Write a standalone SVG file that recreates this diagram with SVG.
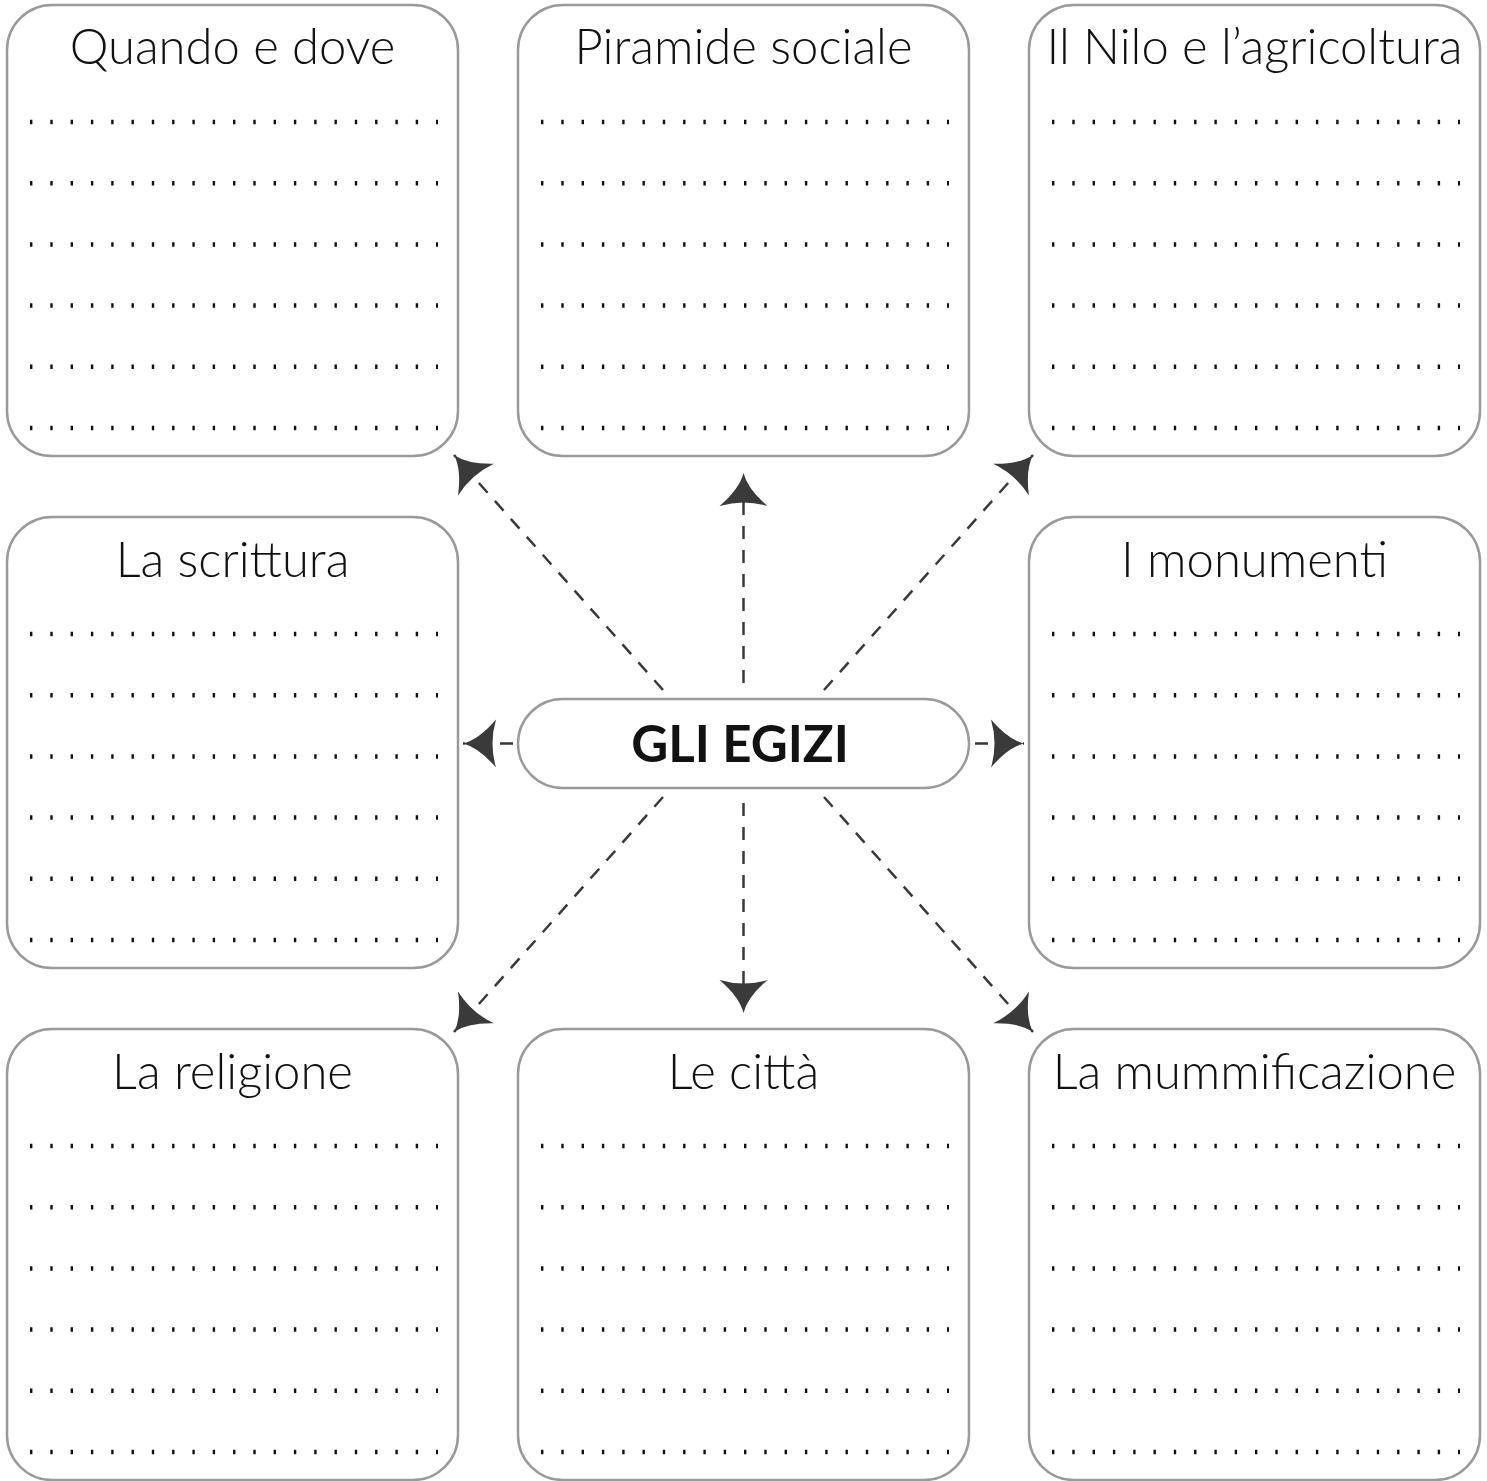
<svg xmlns="http://www.w3.org/2000/svg" width="1487" height="1481" viewBox="0 0 1487 1481">
<style>
.box{fill:#fff;stroke:#9a9a9a;stroke-width:2.5}
.title{font-family:Lato,"Liberation Sans",sans-serif;font-weight:300;font-size:49px;fill:#111;text-anchor:middle}
.main{font-family:Lato,"Liberation Sans",sans-serif;font-weight:700;font-size:51px;fill:#111;text-anchor:middle}
.dots{stroke:#111;stroke-width:4.5;stroke-dasharray:2.4 17.9;fill:none}
.conn{stroke:#3a3a3a;stroke-width:2.5;stroke-dasharray:13 11;fill:none}
</style>
<defs>
<marker id="ah" markerUnits="userSpaceOnUse" viewBox="-36 -26 38 52" markerWidth="38" markerHeight="52" refX="0" refY="0" orient="auto">
<path d="M0,0 Q-16,4 -33,24 Q-26,0 -33,-24 Q-16,-4 0,0 Z" fill="#3a3a3a"/>
</marker>
<g id="dotrows">
<line class="dots" x1="22" y1="0" x2="430" y2="0"/>
<line class="dots" x1="22" y1="61.2" x2="430" y2="61.2"/>
<line class="dots" x1="22" y1="122.4" x2="430" y2="122.4"/>
<line class="dots" x1="22" y1="183.6" x2="430" y2="183.6"/>
<line class="dots" x1="22" y1="244.8" x2="430" y2="244.8"/>
<line class="dots" x1="22" y1="306" x2="430" y2="306"/>
</g>
</defs>
<rect width="1487" height="1481" fill="#fff"/>
<g id="connectors">
<line class="conn" x1="743.5" y1="683" x2="743.5" y2="473" marker-end="url(#ah)"/>
<line class="conn" x1="743.5" y1="803" x2="743.5" y2="1013" marker-end="url(#ah)"/>
<line class="conn" x1="513" y1="743.5" x2="463" y2="743.5" marker-end="url(#ah)"/>
<line class="conn" x1="975" y1="743.5" x2="1024" y2="743.5" marker-end="url(#ah)"/>
<line class="conn" x1="663" y1="690" x2="454" y2="455" marker-end="url(#ah)"/>
<line class="conn" x1="824" y1="690" x2="1033" y2="455" marker-end="url(#ah)"/>
<line class="conn" x1="663" y1="797" x2="454" y2="1032" marker-end="url(#ah)"/>
<line class="conn" x1="824" y1="797" x2="1033" y2="1032" marker-end="url(#ah)"/>
</g>
<g id="node-center">
<rect class="box" x="518" y="699" width="451" height="89" rx="44.5"/>
<text class="main" x="740" y="762">GLI EGIZI</text>
</g>
<g id="node-quando">
<rect class="box" x="7" y="5" width="451" height="451" rx="45"/>
<text class="title" x="232.5" y="64">Quando e dove</text>
<use href="#dotrows" x="8" y="122"/>
</g>
<g id="node-piramide">
<rect class="box" x="518" y="5" width="451" height="451" rx="45"/>
<text class="title" x="743.5" y="64">Piramide sociale</text>
<use href="#dotrows" x="519" y="122"/>
</g>
<g id="node-nilo">
<rect class="box" x="1029" y="5" width="451" height="451" rx="45"/>
<text class="title" x="1254.5" y="64">Il Nilo e l’agricoltura</text>
<use href="#dotrows" x="1030" y="122"/>
</g>
<g id="node-scrittura">
<rect class="box" x="7" y="517" width="451" height="451" rx="45"/>
<text class="title" x="232.5" y="577">La scrittura</text>
<use href="#dotrows" x="8" y="634"/>
</g>
<g id="node-monumenti">
<rect class="box" x="1029" y="517" width="451" height="451" rx="45"/>
<text class="title" x="1254.5" y="577">I monumenti</text>
<use href="#dotrows" x="1030" y="634"/>
</g>
<g id="node-religione">
<rect class="box" x="7" y="1029" width="451" height="451" rx="45"/>
<text class="title" x="232.5" y="1089">La religione</text>
<use href="#dotrows" x="8" y="1146"/>
</g>
<g id="node-citta">
<rect class="box" x="518" y="1029" width="451" height="451" rx="45"/>
<text class="title" x="743.5" y="1089">Le città</text>
<use href="#dotrows" x="519" y="1146"/>
</g>
<g id="node-mummificazione">
<rect class="box" x="1029" y="1029" width="451" height="451" rx="45"/>
<text class="title" x="1254.5" y="1089">La mummificazione</text>
<use href="#dotrows" x="1030" y="1146"/>
</g>
</svg>
